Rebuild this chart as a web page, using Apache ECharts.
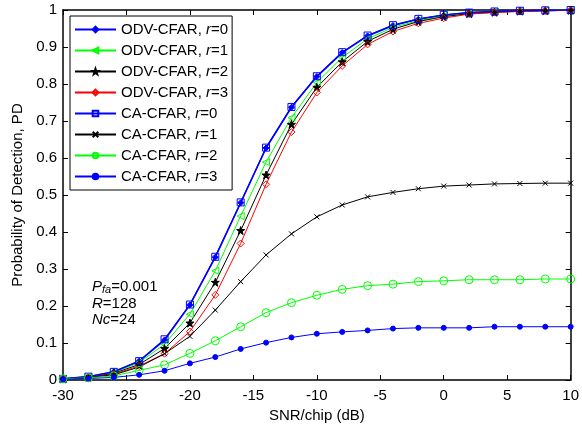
<!DOCTYPE html>
<html>
<head>
<meta charset="utf-8">
<script src="https://cdn.jsdelivr.net/npm/echarts@6/dist/echarts.min.js"></script>
<style>html,body{margin:0;padding:0;background:#fff;}#c{width:582px;height:433px;}</style>
</head>
<body>
<div id="c"></div>
<script>
var snr = [-30,-28,-26,-24,-22,-20,-18,-16,-14,-12,-10,-8,-6,-4,-2,0,2,4,6,8,10];
var odv0 = [0.003,0.009,0.022,0.051,0.108,0.203,0.332,0.479,0.627,0.737,0.820,0.885,0.930,0.958,0.975,0.986,0.993,0.996,0.998,0.999,1.0];
var odv1 = [0.003,0.008,0.020,0.047,0.097,0.178,0.295,0.443,0.589,0.709,0.804,0.872,0.922,0.953,0.971,0.984,0.991,0.995,0.997,0.999,1.0];
var odv2 = [0.003,0.007,0.018,0.042,0.085,0.154,0.264,0.404,0.554,0.691,0.791,0.860,0.915,0.948,0.969,0.982,0.990,0.994,0.997,0.998,0.999];
var odv3 = [0.003,0.007,0.016,0.038,0.071,0.131,0.230,0.369,0.529,0.670,0.777,0.849,0.907,0.942,0.964,0.978,0.989,0.993,0.996,0.998,0.999];
var ca0 = [0.003,0.009,0.022,0.051,0.110,0.204,0.333,0.480,0.628,0.738,0.821,0.886,0.931,0.959,0.976,0.987,0.993,0.996,0.998,0.999,1.0];
var ca1 = [0.003,0.007,0.014,0.035,0.071,0.118,0.189,0.266,0.338,0.395,0.441,0.473,0.495,0.507,0.517,0.524,0.527,0.530,0.531,0.532,0.532];
var ca2 = [0.003,0.006,0.011,0.026,0.041,0.072,0.106,0.144,0.182,0.209,0.229,0.245,0.255,0.259,0.266,0.268,0.271,0.271,0.271,0.273,0.273];
var ca3 = [0.002,0.004,0.007,0.014,0.025,0.045,0.062,0.084,0.101,0.115,0.125,0.130,0.134,0.139,0.141,0.141,0.141,0.144,0.144,0.144,0.144];
var names = ['ODV-CFAR, r=0','ODV-CFAR, r=1','ODV-CFAR, r=2','ODV-CFAR, r=3','CA-CFAR, r=0','CA-CFAR, r=1','CA-CFAR, r=2','CA-CFAR, r=3'];

var FONT = '"Liberation Sans", Arial, Helvetica, sans-serif';
var STAR = 'path://M5,0L6.18,3.38L9.76,3.45L6.9,5.62L7.94,9.05L5,7L2.06,9.05L3.1,5.62L0.24,3.45L3.82,3.38Z';
var XMARK = 'path://M0,0L10,10M10,0L0,10';
var NONE = 'rgba(0,0,0,0)';

function pairs(vals){ return snr.map(function(x,i){ return [x, vals[i]]; }); }
function mk(name, vals, col, sym, size, filled, extra){
  var s = {
    name: name, type: 'line', data: pairs(vals),
    symbol: sym, symbolSize: size, showSymbol: true,
    lineStyle: {color: col, width: 1},
    itemStyle: filled ? {color: col, borderColor: col, borderWidth: 1} : {color: NONE, borderColor: col, borderWidth: 1},
    emphasis: {disabled: true}, silent: true
  };
  if (extra) for (var k in extra) s[k] = extra[k];
  return s;
}

var series = [
  mk(names[0], odv0, '#0000ff', 'diamond', 6, true, {lineStyle:{color:'#0000ff', width:1.6}}),
  mk(names[1], odv1, '#00ff00', 'triangle', 7, false, {symbolRotate: 90}),
  mk(names[2], odv2, '#000000', STAR, 8, true),
  mk(names[3], odv3, '#ff0000', 'diamond', 7, false),
  mk(names[4], ca0, '#0000ff', 'rect', 7, false, {lineStyle:{color:'#0000ff', width:1.2}}),
  mk(names[5], ca1, '#000000', XMARK, 5, false),
  mk(names[6], ca2, '#00ff00', 'circle', 8, false),
  mk(names[7], ca3, '#0000ff', 'circle', 5, true)
];

var axisLine = {show: true, onZero: false, lineStyle: {color: '#000', width: 1.5}};
var tick = {inside: true, length: 5, lineStyle: {color: '#000'}};
var chart = echarts.init(document.getElementById('c'), null, {renderer: 'canvas'});
chart.setOption({
  animation: false,
  backgroundColor: '#fff',
  grid: {left: 63, right: 9, top: 10, bottom: 53},
  xAxis: [
    {type: 'value', min: -30, max: 10, interval: 5, position: 'bottom',
     axisLine: axisLine, axisTick: tick, splitLine: {show: false},
     axisLabel: {color: '#000', fontSize: 15, fontFamily: FONT, margin: 8},
     name: 'SNR/chip (dB)', nameLocation: 'middle', nameGap: 21,
     nameTextStyle: {color: '#000', fontSize: 15, fontFamily: FONT}},
    {type: 'value', min: -30, max: 10, interval: 5, position: 'top',
     axisLine: axisLine, axisTick: tick, splitLine: {show: false}, axisLabel: {show: false}}
  ],
  yAxis: [
    {type: 'value', min: 0, max: 1, interval: 0.1, position: 'left',
     axisLine: axisLine, axisTick: tick, splitLine: {show: false},
     axisLabel: {color: '#000', fontSize: 15, fontFamily: FONT, margin: 6},
     name: 'Probability of Detection, PD', nameLocation: 'middle', nameGap: 38,
     nameTextStyle: {color: '#000', fontSize: 15, fontFamily: FONT}},
    {type: 'value', min: 0, max: 1, interval: 0.1, position: 'right',
     axisLine: axisLine, axisTick: tick, splitLine: {show: false}, axisLabel: {show: false}}
  ],
  legend: {
    orient: 'vertical', left: 70, top: 16,
    padding: [6, 4, 6, 4], itemWidth: 41, itemHeight: 7, itemGap: 6,
    backgroundColor: '#fff', borderColor: '#000', borderWidth: 1,
    data: names,
    formatter: function(n){ var p = n.split('r='); return '{n|' + p[0] + '}{i|r}{n|=' + p[1] + '}'; },
    textStyle: {color: '#000', fontSize: 15, fontFamily: FONT,
      rich: {n: {fontSize: 15, fontFamily: FONT, color: '#000'}, i: {fontSize: 15, fontFamily: FONT, fontStyle: 'italic', color: '#000'}}}
  },
  graphic: [
    {type: 'text', left: 92, top: 279, silent: true,
     style: {text: '{i|P}{s|fa}{n|=0.001}', fill: '#000',
       rich: {i: {fontSize: 15, fontStyle: 'italic', fontFamily: FONT, fill: '#000'},
              s: {fontSize: 11, fontStyle: 'italic', fontFamily: FONT, fill: '#000', padding: [7, 0, 0, 0]},
              n: {fontSize: 15, fontFamily: FONT, fill: '#000'}}}},
    {type: 'text', left: 92, top: 296, silent: true,
     style: {text: '{i|R}{n|=128}', fill: '#000',
       rich: {i: {fontSize: 15, fontStyle: 'italic', fontFamily: FONT, fill: '#000'},
              n: {fontSize: 15, fontFamily: FONT, fill: '#000'}}}},
    {type: 'text', left: 92, top: 312, silent: true,
     style: {text: '{i|Nc}{n|=24}', fill: '#000',
       rich: {i: {fontSize: 15, fontStyle: 'italic', fontFamily: FONT, fill: '#000'},
              n: {fontSize: 15, fontFamily: FONT, fill: '#000'}}}}
  ],
  series: series
});
</script>
</body>
</html>
